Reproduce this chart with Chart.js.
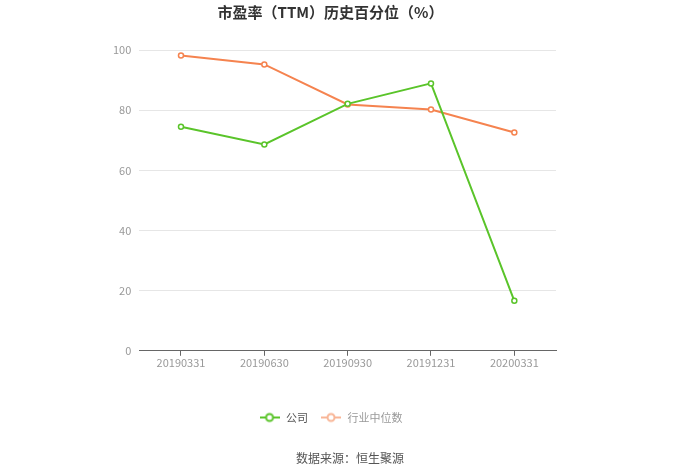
<!DOCTYPE html>
<html>
<head>
<meta charset="utf-8">
<script src="https://cdn.jsdelivr.net/npm/chart.js@4"></script>
<style>
  body { margin: 0; background: #fff; }
  #wrap { position: relative; width: 700px; height: 474px; }
  #source {
    position: absolute; left: 0; width: 700px; top: 449px;
    text-align: center; font: 12px "Noto Sans CJK SC", sans-serif; color: #555;
  }
</style>
</head>
<body>
<div id="wrap">
  <canvas id="chart"></canvas>
  <div id="source">数据来源：恒生聚源</div>
</div>
<script>
const labels = ["20190331", "20190630", "20190930", "20191231", "20200331"];
const companyValues = [74.5, 68.6, 82.1, 88.9, 16.6];
const industryValues = [98.2, 95.2, 81.9, 80.2, 72.6];
const yTicks = [0, 20, 40, 60, 80, 100];

const green = "#5ac42a";
const orange = "#f5834f";
const font = "'Noto Sans CJK SC', sans-serif";

function legendIcon(color) {
  const c = document.createElement("canvas");
  c.width = 20; c.height = 12;
  const ctx = c.getContext("2d");
  ctx.strokeStyle = color;
  ctx.lineWidth = 2;
  ctx.beginPath();
  ctx.moveTo(0, 6); ctx.lineTo(20, 6);
  ctx.stroke();
  ctx.fillStyle = "#fff";
  ctx.beginPath();
  ctx.arc(10, 6, 3.5, 0, Math.PI * 2);
  ctx.fill();
  ctx.stroke();
  return c;
}

const chartCanvas = document.getElementById("chart").getContext("2d");
new Chart(chartCanvas, {
  type: "line",
  data: {
    labels: labels,
    datasets: [
      {
        label: "公司",
        data: companyValues,
        borderColor: green,
        backgroundColor: "#fff",
        pointBackgroundColor: "#fff",
        pointBorderColor: green,
        borderWidth: 2,
        pointRadius: 2.5,
        pointBorderWidth: 1.5,
        tension: 0,
      },
      {
        label: "行业中位数",
        data: industryValues,
        borderColor: orange,
        backgroundColor: "#fff",
        pointBackgroundColor: "#fff",
        pointBorderColor: orange,
        borderWidth: 2,
        pointRadius: 2.5,
        pointBorderWidth: 1.5,
        tension: 0,
      },
    ],
  },
  options: {
    responsive: true,
    maintainAspectRatio: false,
    animation: false,
    layout: { padding: { left: 105, right: 144, top: 0, bottom: 41 } },
    plugins: {
      title: {
        display: true,
        text: "市盈率（TTM）历史百分位（%）",
        color: "#333",
        font: { family: font, size: 15, weight: "bold" },
        padding: { top: 3, bottom: 29 },
      },
      legend: {
        position: "bottom",
        labels: {
          usePointStyle: true,
          pointStyleWidth: 22,
          font: { family: font, size: 11 },
          padding: 12,
          generateLabels: (chart) => [
            { text: "公司", pointStyle: legendIcon(green), fontColor: "#555", datasetIndex: 0, hidden: false, lineWidth: 0 },
            { text: "行业中位数", pointStyle: legendIcon("#f8b596"), fontColor: "#999", datasetIndex: 1, hidden: false, lineWidth: 0 },
          ],
        },
      },
      tooltip: { enabled: false },
    },
    scales: {
      x: {
        offset: true,
        afterFit: (scale) => { scale.height += 31; },
        grid: { display: true, drawOnChartArea: false, drawTicks: true, tickLength: 5, color: "#666", offset: false },
        border: { display: true, color: "#666" },
        ticks: { color: "#999", font: { family: font, size: 11 }, padding: 0, maxRotation: 0 },
      },
      y: {
        min: 0,
        max: 100,
        afterBuildTicks: (axis) => { axis.ticks = yTicks.map((v) => ({ value: v })); },
        grid: { color: "#e6e6e6", drawTicks: false },
        border: { display: false },
        ticks: { color: "#999", font: { family: font, size: 11 }, padding: 8 },
      },
    },
  },
});
</script>
</body>
</html>
